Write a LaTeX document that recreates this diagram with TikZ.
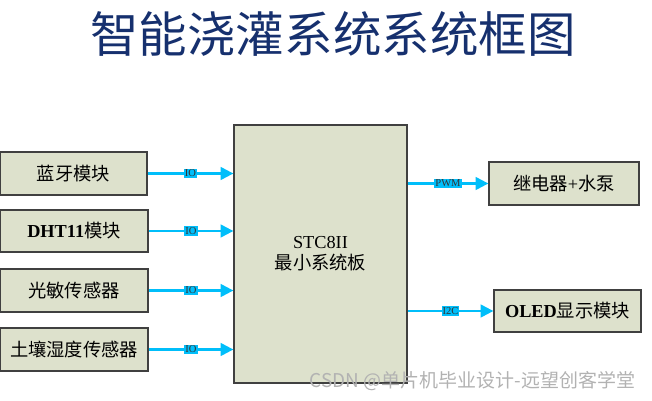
\documentclass[tikz,border=0pt]{standalone}
\usepackage{fontspec}
\setmainfont{Liberation Serif}
\newfontfamily\cjk{Noto Sans CJK SC}
\usetikzlibrary{arrows.meta}
\definecolor{boxfill}{RGB}{221,225,204}
\definecolor{linkc}{RGB}{0,190,250}
\definecolor{titlec}{RGB}{22,48,110}
\tikzset{
  block/.style={draw=black!75, line width=0.9pt, fill=boxfill, inner sep=0pt,
    font=\fontsize{13}{16}\selectfont, align=center},
  link/.style={draw=linkc, line width=1.6pt, -{Triangle[length=9pt,width=9pt]}},
  tag/.style={fill=linkc, inner sep=0.7pt, font=\fontsize{7.5}{8}\selectfont, text=black!80}
}
\begin{document}
\begin{tikzpicture}[x=0.025cm, y=-0.025cm]
    \useasboundingbox (0,0) rectangle (652,401);
    \node[font=\cjk\fontsize{34.5}{38}\selectfont, text=titlec] (title) at (333,34) {智能浇灌系统系统框图};
    \node[block, minimum width=3.675cm, minimum height=1.075cm] (bt) at (73.5,173.5) {\cjk 蓝牙模块};
    \node[block, minimum width=3.7cm, minimum height=1.05cm] (dht) at (74,231) {\textbf{DHT11}{\cjk 模块}};
    \node[block, minimum width=3.7cm, minimum height=1.075cm] (gm) at (74,290.5) {\cjk 光敏传感器};
    \node[block, minimum width=3.7cm, minimum height=1.075cm] (tr) at (74,349.5) {\cjk 土壤湿度传感器};
    \node[block, minimum width=4.325cm, minimum height=6.45cm] (mcu) at (320.5,254) {STC8II\\[-1pt]{\cjk 最小系统板}};
    \node[block, minimum width=3.75cm, minimum height=1.075cm] (jd) at (564,183.5) {{\cjk 继电器}+{\cjk 水泵}};
    \node[block, minimum width=3.675cm, minimum height=1.05cm] (oled) at (567.5,311) {\textbf{OLED}{\cjk 显示模块}};
    \draw[link] (bt.east) -- (bt.east -| mcu.west) node[tag, midway] {IO};
    \draw[link] (dht.east) -- (dht.east -| mcu.west) node[tag, midway] {IO};
    \draw[link] (gm.east) -- (gm.east -| mcu.west) node[tag, midway] {IO};
    \draw[link] (tr.east) -- (tr.east -| mcu.west) node[tag, midway] {IO};
    \draw[link] (mcu.east |- jd.west) -- (jd.west) node[tag, midway] {PWM};
    \draw[link] (mcu.east |- oled.west) -- (oled.west) node[tag, midway] {I2C};
    \node[font=\cjk\fontsize{13.5}{15}\selectfont, text=black!30, anchor=east] (mark) at (640,381) {CSDN @单片机毕业设计-远望创客学堂};
\end{tikzpicture}
\end{document}
